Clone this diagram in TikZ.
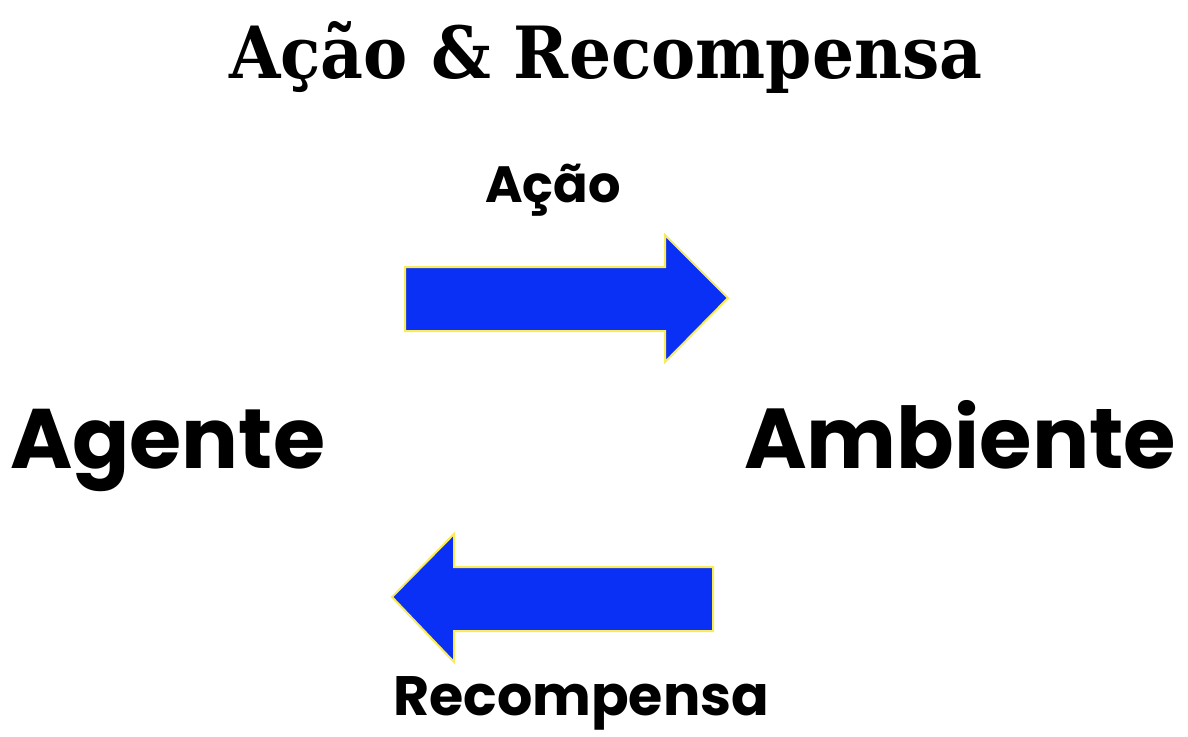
\documentclass[tikz,border=0pt]{standalone}
\usepackage{fontspec}
\setmainfont{Poppins}
\newfontfamily\titlefont{DejaVu Serif}
\definecolor{arrowblue}{RGB}{10,48,245}
\definecolor{arrowedge}{RGB}{250,235,90}
\begin{document}
\begin{tikzpicture}[x=1pt,y=-1pt,
  bigarrow/.style={fill=arrowblue,draw=arrowedge,line width=2pt,line join=miter},
  lbl/.style={inner sep=0pt,anchor=base west,text=black}]
\useasboundingbox[fill=white] (0,0) rectangle (1188,736);
\node[lbl,font=\titlefont\bfseries\fontsize{72}{76}\selectfont] (title) at (229,78) {\scalebox{0.92}[1]{Ação \& Recompensa}};
\node[lbl,font=\bfseries\fontsize{51}{54}\selectfont] (acao) at (485,202) {Ação};
\node[lbl,font=\bfseries\fontsize{84.5}{92}\selectfont] (agente) at (10,468) {Agente};
\node[lbl,font=\bfseries\fontsize{85}{92}\selectfont] (ambiente) at (744,468) {Ambiente};
\node[lbl,font=\bfseries\fontsize{55.5}{60}\selectfont] (recomp) at (393,715) {Recompensa};
\draw[bigarrow] (405,267) -- (665,267) -- (665,235) -- (728,298) -- (665,362) -- (665,331) -- (405,331) -- cycle;
\draw[bigarrow] (713,567) -- (454,567) -- (454,534) -- (392,597) -- (454,662) -- (454,631) -- (713,631) -- cycle;
\end{tikzpicture}
\end{document}
